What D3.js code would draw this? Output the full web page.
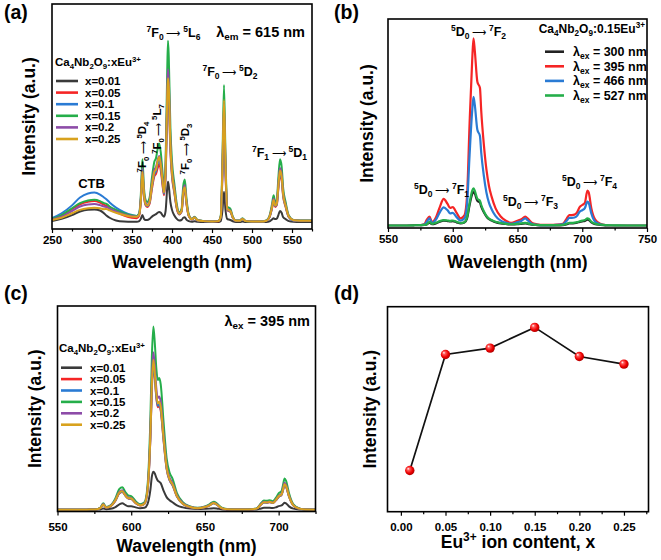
<!DOCTYPE html>
<html><head><meta charset="utf-8">
<script src="https://cdn.jsdelivr.net/npm/d3@7/dist/d3.min.js"></script>
<style>
body{margin:0;background:#fff}
svg{display:block}
text{font-family:"Liberation Sans",Arial,sans-serif;font-weight:bold;fill:#000}
</style>
</head><body>
<svg id="fig" width="661" height="560"></svg>
<script>
// ---------------- DATA ----------------
// (a) excitation spectra, lambda_em = 615 nm
const aWavelength = [250,262,275,285,295,303,310,315,318,322,330,340,350,356,359,361,363,365,367,369,372,375,378,380,382,384,386,388,390,392,394,395,396,398,400,403,406,409,412,414,416,418,421,425,428,432,440,450,458,461,463,465,467,469,471,473,476,480,485,488,492,500,510,518,522,525,527,529,531,533,535,537,539,542,546,552,560,575];
const aX001 = [36,45,62,78,86,87,82,70,60,50, 38,33,32,32,35,45,62,45,40,40, 45,55,62,66,72,76,72,62,55,80, 180,210,190,120,85,60,45,38,40,50, 52,42,35,32,34,32,31,31,31,36, 80,166,80,45,42,40,34,31,31,33, 31,31,31,31,34,42,48,44,46,62, 80,72,52,44,35,32,31,31];
const aX005 = [44,60,88,110,121,124,117,108,103,92, 76,60,50,48,60,120,240,145,105,98, 113,180,235,245,270,290,260,200,150,233, 533,635,578,345,233,158,90,65,76,151, 173,113,57,42,50,38,35,33,34,53, 233,488,233,83,80,76,50,37,37,44, 35,33,33,37,53,91,121,98,106,181, 241,218,143,98,53,38,37,37];
const aX010 = [49,70,105,140,158,162,153,140,132,118, 95,75,62,58,68,125,250,150,110,102, 118,190,245,257,290,310,278,212,157,244, 560,665,606,362,244,165,94,66,78,157, 181,118,58,42,50,38,35,33,35,54, 244,512,244,86,82,78,50,37,37,45, 35,33,33,37,54,94,125,102,110,189, 252,228,149,102,54,38,37,37];
const aX015 = [45,62,92,115,127,130,124,115,112,100, 85,70,60,58,70,150,310,180,130,120, 140,230,300,315,355,380,340,260,190,300, 700,837,760,450,300,200,110,75,90,190, 220,140,65,45,55,40,35,33,35,60, 300,640,300,100,95,90,55,38,38,48, 36,33,33,38,60,110,150,120,130,230, 310,280,180,120,60,40,38,38];
const aX020 = [42,55,80,100,109,111,106,100,98,90, 78,65,57,55,65,135,270,160,118,108, 126,205,265,275,305,325,295,228,168,265, 607,710,658,391,263,177,99,69,82,168, 194,125,60,43,52,39,35,33,35,56, 263,555,263,91,86,82,52,37,37,46, 35,33,33,37,56,99,134,108,116,202, 271,245,159,108,56,39,37,37];
const aX025 = [40,50,70,85,92,94,92,88,89,83, 72,62,55,54,64,125,255,155,112,104, 120,195,255,265,300,320,285,220,162,255, 580,670,630,375,252,170,96,68,80,162, 186,121,59,43,51,39,35,33,35,55, 270,573,270,88,84,80,51,37,37,45, 35,33,33,37,55,96,129,104,113,194, 260,235,153,104,55,39,37,37];
const aTicks = [250,300,350,400,450,500,550];
const aMinor = [275,325,375,425,475,525,575];

// (b) emission spectra of x = 0.15 under different excitation
const bWavelength = [550,560,570,575,578,580,582,584,587,590, 593,596,598,600,603,606,609,611,613,615, 616,617,619,621,622,624,626,628,630,633, 637,641,645,650,653,656,658,661,665,670, 675,680,685,688,690,692,694,696,698,700, 702,704,705,707,710,714,718,725,735,750];
const bEx300 = [12,12,13,14,15,17,26,18,22,30, 35,33,31,33,27,22,26,45,110,162, 172,165,130,122,102,75,55,42,36,28, 22,19,17,18,20,22,20,16,14,13, 13,13,14,18,22,22,23,25,29,32, 34,40,38,27,18,15,13,12,12,12];
const bEx395 = [null,null,null,14,18,40,54,28,50,100, 139,115,96,100,72,46,60,150,500,800, 907,850,700,670,560,400,280,200,150,95, 55,35,25,35,42,54,45,25,18,15, 15,16,20,45,62,62,64,75,100,110, 120,179,170,95,40,20,14,null,null,null];
const bEx466 = [null,null,null,14,16,30,46,24,40,75, 99,85,70,72,52,35,45,110,350,560, 628,590,470,440,360,250,170,120,90,58, 35,25,20,28,34,46,36,20,15,14, 14,15,18,35,48,48,50,58,78,85, 95,126,120,70,30,18,14,null,null,null];
const bEx527 = [12,12,13,14,15,18,30,20,25,33, 38,36,34,36,30,24,28,50,120,178, 190,178,140,130,110,80,58,45,38,30, 24,20,18,20,22,25,22,17,15,14, 14,14,15,20,25,25,26,28,32,35, 38,46,44,30,20,16,14,13,12,12];
const bTicks = [550,600,650,700,750];
const bMinor = [575,625,675,725];

// (c) emission spectra, lambda_ex = 395 nm
const cWavelength = [550,560,570,576,579,581,583,586,589,592, 594,596,598,600,603,606,609,611,613,614, 615,616,617,618,619,620,622,624,626,628, 631,635,640,645,650,653,656,658,661,665, 670,675,680,685,688,690,692,694,696,698, 700,702,703,704,705,707,710,714,718,725];
const cX001 = [8,8,8,9,10,15,11,13,20,35, 40,32,25,26,20,16,18,35,105,170, 194,185,165,150,145,138,100,70,55,45, 30,20,14,12,13,14,16,15,11,9, 8,8,9,10,15,18,18,18,17,20, 26,30,36,43,40,25,14,10,9,8];
const cX005 = [8,8,9,10,16,33,19,25,49,89, 95,77,63,61,41,29,37,96,357,594, 713,650,555,507,515,491,341,207,152,128, 73,37,21,16,21,29,40,33,17,11, 10,10,10,14,33,44,43,45,41,53, 71,81,104,129,120,73,29,14,10,9];
const cX010 = [8,8,9,10,16,34,19,26,50,90, 96,78,64,62,42,30,38,98,362,602, 722,658,562,514,522,498,346,210,154,130, 74,38,22,16,22,30,40,34,18,11, 10,10,10,14,34,44,43,46,42,54, 72,82,106,130,121,74,30,14,10,9];
const cX015 = [8,8,9,10,18,40,22,30,60,110, 118,95,78,75,50,35,45,120,450,750, 900,820,700,640,650,620,430,260,190,160, 90,45,25,18,25,35,48,40,20,12, 10,10,11,15,40,53,52,55,50,65, 88,100,130,161,150,90,35,15,10,9];
const cX020 = [8,8,9,10,17,36,20,27,53,96, 103,83,68,66,44,31,40,104,388,646, 775,706,603,552,560,534,371,225,165,139, 79,40,23,17,23,31,42,36,18,11, 10,10,10,14,36,47,46,48,44,57, 77,87,113,140,130,79,31,14,10,9];
const cX025 = [8,8,9,10,16,34,19,26,51,92, 98,79,65,63,42,30,38,100,370,616, 739,674,575,526,534,510,354,215,157,133, 75,38,22,16,22,30,41,34,18,11, 10,10,10,14,34,45,44,47,42,55, 74,83,108,133,124,75,30,14,10,9];
const cTicks = [550,600,650,700];
const cMinor = [575,625,675,725];

// (d) integrated intensity vs Eu content
const dContent = [0.01,0.05,0.10,0.15,0.20,0.25];
const dIntensity = [201,767,798,899,757,720];
const dTicks = [0.00,0.05,0.10,0.15,0.20,0.25];
const dMinor = [0.025,0.075,0.125,0.175,0.225,0.275];

const concLabels = ["x=0.01","x=0.05","x=0.1","x=0.15","x=0.2","x=0.25"];
const exLabels = ["300","395","466","527"];

// ---------------- STYLE ----------------
const concColors = ["#3a3a3a","#f52525","#2a7bd4","#25ae4a","#8d4ca8","#d8a21e"];
const exColors = ["#222222","#f52525","#2a7bd4","#25ae4a"];

const svg = d3.select("#fig");

function rich(g, x, y, parts, size, opts = {}) {
  const t = g.append("text").attr("x", x).attr("y", y).attr("font-size", size)
    .attr("text-anchor", opts.anchor || "start");
  if (opts.rotate) t.attr("transform", `rotate(${opts.rotate},${x},${y})`);
  let off = 0;
  parts.forEach(p => {
    const [s, m] = Array.isArray(p) ? p : [p, ""];
    const target = m === "sup" ? -0.38 * size : m === "sub" ? 0.22 * size : 0;
    const ts = t.append("tspan").text(s).attr("dy", target - off);
    if (m === "sup" || m === "sub") ts.attr("font-size", size * 0.68);
    if (m === "arrow") ts.attr("font-size", size * 0.8).style("font-weight", "normal");
    off = target;
  });
  return t;
}
function trans(a, b, c, d, e, f) {
  return [[a, "sup"], b, [c, "sub"], [" \u27F6 ", "arrow"], [d, "sup"], e, [f, "sub"]];
}

function panel(cfg) {
  const g = svg.append("g");
  const x = d3.scaleLinear().domain(cfg.xDomain).range([cfg.left, cfg.right]);
  const y = d3.scaleLinear().domain([0, 1000]).range([cfg.bottom, cfg.top]);
  const clipId = "clip" + cfg.id;
  svg.append("clipPath").attr("id", clipId).append("rect")
    .attr("x", cfg.left).attr("y", cfg.top)
    .attr("width", cfg.right - cfg.left).attr("height", cfg.bottom - cfg.top);
  const lg = g.append("g").attr("clip-path", `url(#${clipId})`);
  if (cfg.series) {
    const line = d3.line().defined(d => d[1] != null)
      .x(d => x(d[0])).y(d => y(d[1])).curve(d3.curveMonotoneX);
    cfg.series.forEach(s => {
      lg.append("path")
        .attr("d", line(cfg.wl.map((w, i) => [w, s.values[i]])))
        .attr("fill", "none").attr("stroke", s.color)
        .attr("stroke-width", cfg.lw || 2).attr("stroke-linejoin", "round");
    });
  }
  g.append("rect").attr("x", cfg.left).attr("y", cfg.top)
    .attr("width", cfg.right - cfg.left).attr("height", cfg.bottom - cfg.top)
    .attr("fill", "none").attr("stroke", "#000").attr("stroke-width", 1.6);
  const ax = d3.axisBottom(x).tickValues(cfg.ticks).tickSize(4)
    .tickPadding(cfg.pad).tickFormat(cfg.fmt || d3.format("d"));
  const ag = g.append("g").attr("transform", `translate(0,${cfg.bottom})`).call(ax);
  ag.select(".domain").remove();
  ag.selectAll("line").attr("stroke", "#000").attr("stroke-width", 1.2);
  ag.selectAll("text").attr("font-size", cfg.tickFont || 11.5).attr("fill", "#000");
  const am = d3.axisBottom(x).tickValues(cfg.minor).tickSize(2.5).tickFormat("");
  const mg = g.append("g").attr("transform", `translate(0,${cfg.bottom})`).call(am);
  mg.select(".domain").remove();
  mg.selectAll("line").attr("stroke", "#000").attr("stroke-width", 1.2);
  if (cfg.xTitle) rich(g, (cfg.left + cfg.right) / 2, cfg.xTitleY, cfg.xTitle, 17.5, {anchor: "middle"});
  g.append("text").attr("font-size", 17.5).attr("text-anchor", "middle")
    .attr("transform", `translate(${cfg.yTitleX},${(cfg.top + cfg.bottom) / 2}) rotate(-90)`)
    .text("Intensity (a.u.)");
  g.append("text").attr("x", cfg.labX).attr("y", cfg.labY).attr("font-size", 19.5).text(cfg.label);
  return {g, x, y};
}

// ---------- (a) ----------
const A = panel({id: "a", xDomain: [250, 575], left: 52, right: 312, top: 4, bottom: 229,
  wl: aWavelength, series: [aX001, aX005, aX010, aX015, aX020, aX025].map((v, i) => ({values: v, color: concColors[i]})),
  ticks: aTicks, minor: aMinor, pad: 3, xTitle: ["Wavelength (nm)"], xTitleY: 268,
  yTitleX: 35, label: "(a)", labX: 4, labY: 19});
rich(A.g, 55, 66, ["Ca", ["4", "sub"], "Nb", ["2", "sub"], "O", ["9", "sub"], ":xEu", ["3+", "sup"]], 11.5);
concLabels.forEach((l, i) => {
  const yy = 81 + i * 11.6;
  A.g.append("line").attr("x1", 56).attr("x2", 78).attr("y1", yy).attr("y2", yy)
    .attr("stroke", concColors[i]).attr("stroke-width", 2.6);
  A.g.append("text").attr("x", 85).attr("y", yy + 4).attr("font-size", 11.5).text(l);
});
A.g.append("text").attr("x", 91.5).attr("y", 188).attr("font-size", 13).attr("text-anchor", "middle").text("CTB");
rich(A.g, 173.5, 37, trans("7", "F", "0", "5", "L", "6"), 12.5, {anchor: "middle"});
rich(A.g, 305, 37, ["\u03BB", ["em", "sub"], " = 615 nm"], 14.5, {anchor: "end"});
rich(A.g, 230, 76, trans("7", "F", "0", "5", "D", "2"), 12.5, {anchor: "middle"});
rich(A.g, 279.5, 157, trans("7", "F", "1", "5", "D", "1"), 12.5, {anchor: "middle"});
rich(A.g, 146, 147, trans("7", "F", "0", "5", "D", "4"), 11.5, {anchor: "middle", rotate: -90});
rich(A.g, 161, 129, trans("7", "F", "0", "5", "L", "7"), 11.5, {anchor: "middle", rotate: -90});
rich(A.g, 189, 149, trans("7", "F", "0", "5", "D", "3"), 11.5, {anchor: "middle", rotate: -90});

// ---------- (b) ----------
const B = panel({id: "b", xDomain: [550, 750], left: 388, right: 647, top: 19, bottom: 228,
  wl: bWavelength, series: [bEx300, bEx395, bEx466, bEx527].map((v, i) => ({values: v, color: exColors[i]})),
  ticks: bTicks, minor: bMinor, pad: 3, xTitle: ["Wavelength (nm)"], xTitleY: 268, lw: 2.2,
  yTitleX: 373, label: "(b)", labX: 334, labY: 19});
rich(B.g, 645, 33, ["Ca", ["4", "sub"], "Nb", ["2", "sub"], "O", ["9", "sub"], ":0.15Eu", ["3+", "sup"]], 12, {anchor: "end"});
exLabels.forEach((l, i) => {
  const yy = 51.7 + i * 14.6;
  B.g.append("line").attr("x1", 545).attr("x2", 564).attr("y1", yy).attr("y2", yy)
    .attr("stroke", exColors[i]).attr("stroke-width", 2.6);
  rich(B.g, 573, yy + 4.5, ["\u03BB", ["ex", "sub"], " = " + l + " nm"], 12.5);
});
rich(B.g, 478.5, 36, trans("5", "D", "0", "7", "F", "2"), 12.5, {anchor: "middle"});
rich(B.g, 441.5, 194, trans("5", "D", "0", "7", "F", "1"), 12.5, {anchor: "middle"});
rich(B.g, 530.5, 206, trans("5", "D", "0", "7", "F", "3"), 12.5, {anchor: "middle"});
rich(B.g, 589.5, 186, trans("5", "D", "0", "7", "F", "4"), 12.5, {anchor: "middle"});

// ---------- (c) ----------
const C = panel({id: "c", xDomain: [550, 725], left: 57.5, right: 315.5, top: 306, bottom: 511.5,
  wl: cWavelength, series: [cX001, cX005, cX010, cX015, cX020, cX025].map((v, i) => ({values: v, color: concColors[i]})),
  ticks: cTicks, minor: cMinor, pad: 7, xTitle: ["Wavelength (nm)"], xTitleY: 552,
  yTitleX: 41, label: "(c)", labX: 4, labY: 300});
rich(C.g, 310, 326, ["\u03BB", ["ex", "sub"], " = 395 nm"], 14.5, {anchor: "end"});
rich(C.g, 59, 352, ["Ca", ["4", "sub"], "Nb", ["2", "sub"], "O", ["9", "sub"], ":xEu", ["3+", "sup"]], 11.5);
concLabels.forEach((l, i) => {
  const yy = 367.7 + i * 11.4;
  C.g.append("line").attr("x1", 61).attr("x2", 82).attr("y1", yy).attr("y2", yy)
    .attr("stroke", concColors[i]).attr("stroke-width", 2.6);
  C.g.append("text").attr("x", 90).attr("y", yy + 4).attr("font-size", 11.5).text(l);
});

// ---------- (d) ----------
const D = panel({id: "d", xDomain: [-0.015, 0.2775], left: 387.5, right: 648.5, top: 306.7, bottom: 511.7,
  ticks: dTicks, minor: dMinor, pad: 7, fmt: d3.format(".2f"), tickFont: 11.5,
  xTitle: ["Eu", ["3+", "sup"], " ion content, x"], xTitleY: 548,
  yTitleX: 376, label: "(d)", labX: 334, labY: 300});
const defs = svg.append("defs");
const rg = defs.append("radialGradient").attr("id", "ball").attr("cx", "45%").attr("cy", "45%").attr("r", "60%")
  .attr("fx", "32%").attr("fy", "30%");
rg.append("stop").attr("offset", "0%").attr("stop-color", "#ffffff");
rg.append("stop").attr("offset", "25%").attr("stop-color", "#ff5a5a");
rg.append("stop").attr("offset", "65%").attr("stop-color", "#ee0000");
rg.append("stop").attr("offset", "100%").attr("stop-color", "#a00000");
const dPts = dContent.map((c, i) => [c, dIntensity[i]]);
D.g.append("path").attr("d", d3.line().x(d => D.x(d[0])).y(d => D.y(d[1]))(dPts))
  .attr("fill", "none").attr("stroke", "#111").attr("stroke-width", 1.7);
D.g.selectAll("circle.pt").data(dPts).enter().append("circle").attr("class", "pt")
  .attr("cx", d => D.x(d[0])).attr("cy", d => D.y(d[1])).attr("r", 4.7)
  .attr("fill", "url(#ball)");
</script>
</body></html>
